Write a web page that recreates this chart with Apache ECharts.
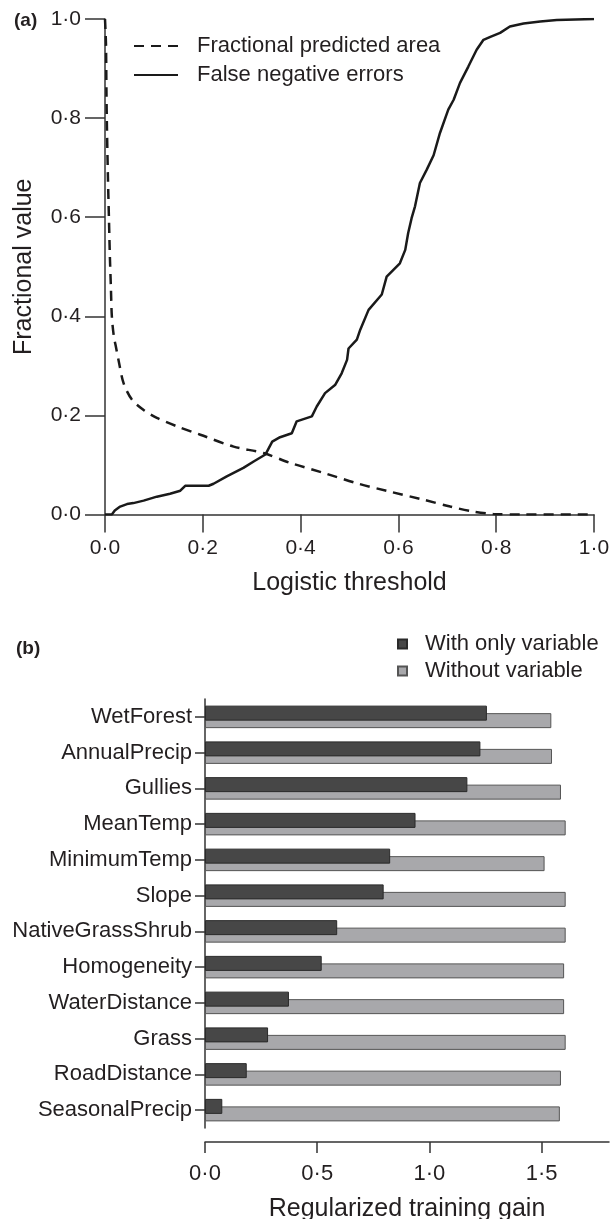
<!DOCTYPE html>
<html><head><meta charset="utf-8">
<script src="https://cdn.jsdelivr.net/npm/echarts@6/dist/echarts.min.js"></script>
<style>html,body{margin:0;padding:0;background:#fff}#c{width:611px;height:1219px}</style>
</head><body><div id="c"></div>
<script>
// Panel (a): fractional predicted area (dashed)
const fpaX = [0.000, 0.002, 0.003, 0.004, 0.006, 0.008, 0.010, 0.012, 0.014, 0.018, 0.022, 0.028, 0.038, 0.055, 0.079, 0.106, 0.147, 0.195, 0.263, 0.324, 0.379, 0.447, 0.515, 0.583, 0.651, 0.706, 0.753, 0.794, 0.850, 1.000];
const fpaY = [1.000, 0.950, 0.850, 0.780, 0.680, 0.600, 0.520, 0.460, 0.400, 0.360, 0.340, 0.310, 0.265, 0.232, 0.211, 0.195, 0.178, 0.161, 0.137, 0.124, 0.104, 0.084, 0.063, 0.046, 0.030, 0.016, 0.006, 0.001, 0.000, 0.000];
// Panel (a): false negative errors (solid)
const fneX = [0.000, 0.014, 0.020, 0.031, 0.045, 0.058, 0.079, 0.106, 0.133, 0.154, 0.164, 0.212, 0.222, 0.249, 0.283, 0.304, 0.328, 0.342, 0.358, 0.382, 0.392, 0.423, 0.433, 0.450, 0.471, 0.484, 0.495, 0.498, 0.515, 0.522, 0.539, 0.566, 0.576, 0.603, 0.614, 0.620, 0.627, 0.634, 0.644, 0.658, 0.672, 0.685, 0.702, 0.713, 0.726, 0.743, 0.760, 0.774, 0.788, 0.808, 0.828, 0.856, 0.890, 0.924, 1.000];
const fneY = [0.000, 0.000, 0.008, 0.016, 0.021, 0.023, 0.028, 0.036, 0.042, 0.048, 0.058, 0.058, 0.062, 0.077, 0.094, 0.107, 0.121, 0.147, 0.156, 0.164, 0.188, 0.198, 0.218, 0.245, 0.262, 0.285, 0.312, 0.335, 0.353, 0.373, 0.413, 0.444, 0.480, 0.507, 0.534, 0.568, 0.598, 0.622, 0.669, 0.696, 0.725, 0.770, 0.817, 0.837, 0.871, 0.904, 0.938, 0.958, 0.964, 0.972, 0.985, 0.991, 0.995, 0.998, 1.000];
const ticksA = [0, 0.2, 0.4, 0.6, 0.8, 1.0];

// Panel (b)
const categories = ['WetForest', 'AnnualPrecip', 'Gullies', 'MeanTemp', 'MinimumTemp', 'Slope', 'NativeGrassShrub', 'Homogeneity', 'WaterDistance', 'Grass', 'RoadDistance', 'SeasonalPrecip'];
const withOnly = [1.256, 1.227, 1.169, 0.938, 0.825, 0.796, 0.589, 0.520, 0.374, 0.281, 0.186, 0.077];
const without  = [1.543, 1.546, 1.586, 1.607, 1.513, 1.607, 1.607, 1.600, 1.600, 1.607, 1.586, 1.581];
const ticksB = [0, 0.5, 1.0, 1.5];

const FONT = 'Liberation Sans';
const TXT = '#231f20';
const AX = '#333';
const fmt = v => v.toFixed(1).replace('.', '\u00b7');

const chart = echarts.init(document.getElementById('c'), null, {renderer: 'canvas'});
chart.setOption({
  animation: false,
  backgroundColor: '#fff',
  textStyle: {fontFamily: FONT, color: TXT},
  title: [
    {text: '(a)', left: 9, top: 6, textStyle: {fontFamily: FONT, fontSize: 19, fontWeight: 'bold', color: TXT}},
    {text: '(b)', left: 11, top: 634, textStyle: {fontFamily: FONT, fontSize: 19, fontWeight: 'bold', color: TXT}}
  ],
  legend: [
    {
      orient: 'vertical', left: 128, top: 30, itemGap: 7,
      itemWidth: 44, itemHeight: 14,
      data: ['Fractional predicted area', 'False negative errors'],
      itemStyle: {color: 'transparent', borderColor: 'transparent', borderWidth: 0, opacity: 0},
      textStyle: {fontFamily: FONT, fontSize: 22, color: TXT, padding: [0, 0, 0, 14]}
    },
    {
      orient: 'vertical', left: 392, top: 628, itemGap: 5,
      itemWidth: 9, itemHeight: 9, icon: 'rect',
      data: ['With only variable', 'Without variable'],
      textStyle: {fontFamily: FONT, fontSize: 22, color: TXT, padding: [0, 0, 0, 13]}
    }
  ],
  grid: [
    {left: 105, right: 17, top: 19, height: 495.5, outerBoundsMode: 'none', containLabel: false},
    {left: 205, right: 2, top: 699, height: 429, outerBoundsMode: 'none', containLabel: false}
  ],
  xAxis: [
    {
      gridIndex: 0, type: 'value', min: 0, max: 1, interval: 0.2,
      splitLine: {show: false},
      axisLine: {show: true, lineStyle: {color: AX, width: 1.5}},
      axisTick: {show: true, length: 18, lineStyle: {color: AX, width: 1.5}, customValues: ticksA},
      axisLabel: {margin: 23, fontSize: 21, color: TXT, fontFamily: FONT, formatter: fmt, customValues: ticksA},
      name: 'Logistic threshold', nameLocation: 'middle', nameGap: 56,
      nameTextStyle: {fontSize: 25, color: TXT, fontFamily: FONT}
    },
    {
      gridIndex: 1, type: 'value', min: 0, max: 1.8, position: 'bottom', offset: 14,
      splitLine: {show: false},
      axisLine: {show: true, onZero: false, lineStyle: {color: AX, width: 1.5}},
      axisTick: {show: true, length: 11, lineStyle: {color: AX, width: 1.5}, customValues: ticksB},
      axisLabel: {margin: 21, fontSize: 22, color: TXT, fontFamily: FONT, formatter: fmt, customValues: ticksB},
      name: 'Regularized training gain', nameLocation: 'middle', nameGap: 55,
      nameTextStyle: {fontSize: 25, color: TXT, fontFamily: FONT}
    }
  ],
  yAxis: [
    {
      gridIndex: 0, type: 'value', min: 0, max: 1, interval: 0.2,
      splitLine: {show: false},
      axisLine: {show: true, lineStyle: {color: AX, width: 1.5}},
      axisTick: {show: true, length: 20, lineStyle: {color: AX, width: 1.5}, customValues: ticksA},
      axisLabel: {margin: 24, fontSize: 21, color: TXT, fontFamily: FONT, formatter: fmt, customValues: ticksA},
      name: 'Fractional value', nameLocation: 'middle', nameGap: 68,
      nameTextStyle: {fontSize: 25, color: TXT, fontFamily: FONT}
    },
    {
      gridIndex: 1, type: 'category', data: categories, inverse: true,
      axisLine: {show: true, onZero: false, lineStyle: {color: AX, width: 1.5}},
      axisTick: {show: true, length: 10, alignWithLabel: true, lineStyle: {color: AX, width: 1.5}},
      axisLabel: {margin: 13, fontSize: 22, color: TXT, fontFamily: FONT}
    }
  ],
  series: [
    {
      name: 'Fractional predicted area', type: 'line', xAxisIndex: 0, yAxisIndex: 0,
      data: fpaX.map((x, i) => [x, fpaY[i]]), symbol: 'none', smooth: 0.3,
      lineStyle: {color: '#1a1a1a', width: 2.5, type: [10, 7]}, itemStyle: {color: '#1a1a1a'}
    },
    {
      name: 'False negative errors', type: 'line', xAxisIndex: 0, yAxisIndex: 0,
      data: fneX.map((x, i) => [x, fneY[i]]), symbol: 'none',
      lineStyle: {color: '#1a1a1a', width: 2.5}, itemStyle: {color: '#1a1a1a'}
    },
    {
      name: 'With only variable', type: 'bar', xAxisIndex: 1, yAxisIndex: 1,
      data: withOnly, barWidth: 15, barGap: '-50%', z: 3,
      itemStyle: {color: '#474747', borderColor: '#2a2a2a', borderWidth: 1}
    },
    {
      name: 'Without variable', type: 'bar', xAxisIndex: 1, yAxisIndex: 1,
      data: without, barWidth: 15, barGap: '-50%', z: 2,
      itemStyle: {color: '#a8a8ab', borderColor: '#555', borderWidth: 1}
    }
  ]
});
</script>
</body></html>
